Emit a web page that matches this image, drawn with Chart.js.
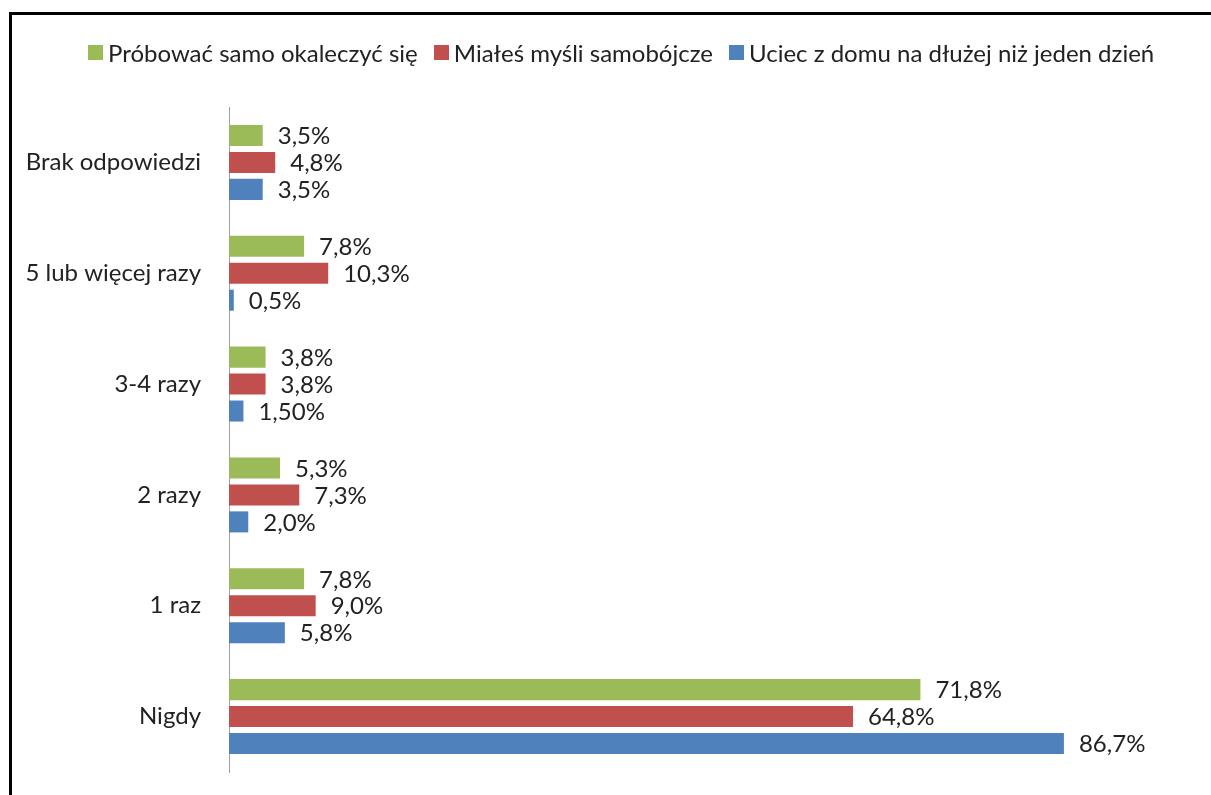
<!DOCTYPE html>
<html lang="pl">
<head>
<meta charset="utf-8">
<title>Zachowania ryzykowne</title>
<script src="https://cdn.jsdelivr.net/npm/chart.js@4.4.1/dist/chart.umd.min.js"></script>
<style>
    html, body {
        margin: 0;
        padding: 0;
        background: #fff;
        overflow: hidden;
    }
    #wrap {
        position: relative;
        width: 1211px;
        height: 795px;
    }
    #frame {
        position: absolute;
        left: 9px;
        top: 12px;
        right: -10px;
        bottom: -10px;
        border-left: 3px solid #000;
        border-top: 3px solid #000;
        pointer-events: none;
    }
    #legend {
        position: absolute;
        left: 88px;
        top: 38px;
        display: flex;
        align-items: center;
        font-family: Lato, 'Noto Sans', sans-serif;
        font-size: 24px;
        color: #222;
        white-space: nowrap;
    }
    #legend .item {
        display: flex;
        align-items: center;
        margin-right: 16px;
    }
    #legend .box {
        width: 15px;
        height: 15px;
        margin-right: 5px;
    }
    canvas {
        position: absolute;
        left: 0;
        top: 0;
    }
</style>
</head>
<body>
<div id="wrap">
    <canvas id="zachowaniaChart" width="1211" height="795"></canvas>
    <div id="legend"></div>
    <div id="frame"></div>
</div>
<script>
const categories = ['Brak odpowiedzi', '5 lub więcej razy', '3-4 razy', '2 razy', '1 raz', 'Nigdy'];

const seriesNames = [
    'Próbować samo okaleczyć się',
    'Miałeś myśli samobójcze',
    'Uciec z domu na dłużej niż jeden dzień',
];

const samookaleczenie = [3.5, 7.8, 3.8, 5.3, 7.8, 71.8];
const mysliSamobojcze = [4.8, 10.3, 3.8, 7.3, 9.0, 64.8];
const ucieczkaZDomu = [3.5, 0.5, 1.5, 2.0, 5.8, 86.7];

// number of decimals printed in each value label
const decimalsSamookaleczenie = [1, 1, 1, 1, 1, 1];
const decimalsMysli = [1, 1, 1, 1, 1, 1];
const decimalsUcieczka = [1, 1, 2, 1, 1, 1];

const colors = ['#9bbb59', '#c0504d', '#4f81bd'];
const textColor = '#222';
const fontFamily = "Lato, 'Noto Sans', sans-serif";

function formatPct(value, decimals) {
    return value.toFixed(decimals).replace('.', ',') + '%';
}

// value labels to the right of each bar
const barValueLabels = {
    id: 'barValueLabels',
    afterDatasetsDraw(chart) {
        const ctx = chart.ctx;
        ctx.save();
        ctx.font = '24px ' + fontFamily;
        ctx.fillStyle = textColor;
        ctx.textAlign = 'left';
        ctx.textBaseline = 'middle';
        chart.data.datasets.forEach((ds, i) => {
            const meta = chart.getDatasetMeta(i);
            meta.data.forEach((bar, j) => {
                ctx.fillText(formatPct(ds.data[j], ds.decimals[j]), bar.x + 15, bar.y + 1);
            });
        });
        ctx.restore();
    }
};

const chartEl = document.getElementById('zachowaniaChart');

const chart = new Chart(chartEl, {
    type: 'bar',
    data: {
        labels: categories,
        datasets: [{
                label: seriesNames[0],
                data: samookaleczenie,
                decimals: decimalsSamookaleczenie,
                backgroundColor: colors[0],
            },
            {
                label: seriesNames[1],
                data: mysliSamobojcze,
                decimals: decimalsMysli,
                backgroundColor: colors[1],
            },
            {
                label: seriesNames[2],
                data: ucieczkaZDomu,
                decimals: decimalsUcieczka,
                backgroundColor: colors[2],
            },
        ],
    },
    options: {
        indexAxis: 'y',
        responsive: false,
        animation: false,
        events: [],
        datasets: {
            bar: {
                categoryPercentage: 0.73,
                barPercentage: 0.78,
            }
        },
        layout: {
            padding: { top: 107, right: 19, bottom: 23, left: 0 }
        },
        scales: {
            x: {
                display: false,
                min: 0,
                max: 100,
            },
            y: {
                // invisible tick marks keep the labels away from the axis line
                grid: {
                    display: true,
                    drawOnChartArea: false,
                    drawTicks: true,
                    tickLength: 28,
                    tickColor: 'rgba(0,0,0,0)',
                },
                border: {
                    display: true,
                    color: '#a0a0a0',
                    width: 1,
                },
                ticks: {
                    padding: 0,
                    color: textColor,
                    font: { family: fontFamily, size: 24 },
                },
                afterFit(scale) {
                    scale.width = 229;
                },
            },
        },
        plugins: {
            legend: { display: false },
            tooltip: { enabled: false },
        },
    },
    plugins: [barValueLabels],
});

// legend built from the datasets
const legendEl = document.getElementById('legend');
chart.data.datasets.forEach((ds) => {
    const item = document.createElement('div');
    item.className = 'item';
    const box = document.createElement('span');
    box.className = 'box';
    box.style.background = ds.backgroundColor;
    const label = document.createElement('span');
    label.textContent = ds.label;
    item.appendChild(box);
    item.appendChild(label);
    legendEl.appendChild(item);
});
</script>
</body>
</html>
